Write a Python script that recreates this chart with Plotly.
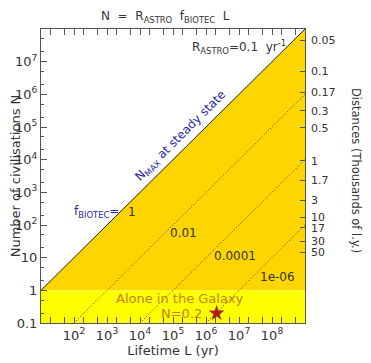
import plotly.graph_objects as go
import math

# ---- data ----
R_ASTRO = 0.1                      # yr^-1
f_biotec = [1, 0.01, 1e-4, 1e-6]
f_labels = ["1", "0.01", "0.0001", "1e-06"]
L_range = [1e1, 1e9]               # lifetime range (yr)
N_range = [0.1, 1e8]
alone_N = [0.1, 1.0]               # "alone" band
star_L = [2.1e6]
star_N = [0.2]
x_tickvals = [1e2, 1e3, 1e4, 1e5, 1e6, 1e7, 1e8]
x_ticktext = ["10<sup>2</sup>", "10<sup>3</sup>", "10<sup>4</sup>", "10<sup>5</sup>",
              "10<sup>6</sup>", "10<sup>7</sup>", "10<sup>8</sup>"]
y_tickvals = [0.1, 1, 10, 1e2, 1e3, 1e4, 1e5, 1e6, 1e7]
y_ticktext = ["0.1", "1", "10", "10<sup>2</sup>", "10<sup>3</sup>", "10<sup>4</sup>",
              "10<sup>5</sup>", "10<sup>6</sup>", "10<sup>7</sup>"]
dist_labels = ["0.05", "0.1", "0.17", "0.3", "0.5", "1", "1.7", "3", "10", "17", "30", "50"]
dist_N = [10**7.66, 10**6.70, 10**6.07, 10**5.50, 10**4.98, 10**3.97, 10**3.36,
          10**2.76, 10**2.24, 10**1.91, 10**1.51, 10**1.17]

FONT = "DejaVu Sans"
GOLD = "#FFD500"
YEL = "#FFFF00"
BLUE = "#2828A8"
BROWN = "#C8801E"
TXT = "#333333"
AX = "#555555"

fig = go.Figure()

# gold region under N_MAX line, above N=1
L_at1 = 1.0 / (R_ASTRO * f_biotec[0])
fig.add_trace(go.Scatter(
    x=[L_at1, L_range[1], L_range[1], L_at1],
    y=[R_ASTRO * f_biotec[0] * L_at1, R_ASTRO * f_biotec[0] * L_range[1], alone_N[1], alone_N[1]],
    fill="toself", fillcolor=GOLD, mode="none", hoverinfo="skip"))
# yellow band
fig.add_trace(go.Scatter(
    x=[L_range[0], L_range[1], L_range[1], L_range[0]],
    y=[alone_N[0], alone_N[0], alone_N[1], alone_N[1]],
    fill="toself", fillcolor=YEL, mode="none", hoverinfo="skip"))

# lines
for i, f in enumerate(f_biotec):
    L0 = max(L_range[0], N_range[0] / (R_ASTRO * f))
    xs = [L0, L_range[1]]
    ys = [R_ASTRO * f * x for x in xs]
    if i == 0:
        line = dict(color="#222222", width=1)
    else:
        line = dict(color="#333333", width=1, dash="1px,2px")
    fig.add_trace(go.Scatter(x=xs, y=ys, mode="lines", line=line, hoverinfo="skip"))

# star
fig.add_trace(go.Scatter(x=star_L, y=star_N, mode="markers",
                         marker=dict(symbol="star", size=12, color="#B02020",
                                     line=dict(width=0)),
                         hoverinfo="skip"))

# invisible trace for y2
fig.add_trace(go.Scatter(x=[L_range[0]], y=[N_range[0]], yaxis="y2", mode="markers",
                         marker=dict(opacity=0), hoverinfo="skip"))

ann = []
def A(text, lx, ly, color=TXT, size=12, angle=0, xanchor="center"):
    ann.append(dict(text=text, x=lx, y=ly, xref="x", yref="y", showarrow=False,
                    font=dict(family=FONT, size=size, color=color), textangle=angle,
                    xanchor=xanchor, yanchor="middle"))

A("f<sub>BIOTEC</sub>=", 3.42, 2.40, color=BLUE, xanchor="right")
A(f_labels[0], 3.76, 2.40)
A(f_labels[1], 5.33, 1.75)
A(f_labels[2], 6.88, 1.05)
A(f_labels[3], 8.18, 0.41)
A("R<sub>ASTRO</sub>=0.1  yr<sup>-1</sup>", 7.0, 7.45)
A("N<sub>MAX</sub> at steady state", 5.25, 4.72, color=BLUE, angle=-45)
A("Alone in the Galaxy", 5.21, -0.24, color=BROWN, size=13)
A("N=0.2", 5.27, -0.72, color=BROWN, size=13)

# right axis title
ann.append(dict(text="Distances (Thousands of l.y.)", xref="paper", yref="paper",
                x=(356 - 41) / 264, y=(323 - 170) / 294, yanchor="middle", xanchor="center",
                showarrow=False, textangle=90,
                font=dict(family=FONT, size=11.5, color=TXT)))
# title
ann.append(dict(text="N  =  R<sub>ASTRO</sub>  f<sub>BIOTEC</sub>  L", xref="paper", yref="paper",
                x=(165 - 41) / 264, y=(323 - 7) / 294, showarrow=False,
                yanchor="top", xanchor="center",
                font=dict(family=FONT, size=12, color=TXT)))

axis_common = dict(showgrid=False, zeroline=False, showline=True, linecolor=AX,
                   linewidth=1, ticks="inside", ticklen=6, tickcolor=AX, automargin=False,
                   tickfont=dict(family=FONT, size=13, color=TXT))

# page body has an 8px default margin: shrink figure so plot lands where reference has it
fig.update_layout(
    width=363, height=355,
    margin=dict(l=33, r=66, t=21, b=40),
    paper_bgcolor="white", plot_bgcolor="white",
    showlegend=False,
    annotations=ann,
    xaxis=dict(type="log", range=[math.log10(L_range[0]), math.log10(L_range[1])],
               tickvals=x_tickvals, ticktext=x_ticktext, mirror="allticks",
               minor=dict(ticks="inside", ticklen=3, tickcolor=AX, showgrid=False),
               title=dict(text="Lifetime L (yr)", font=dict(family=FONT, size=13, color=TXT),
                          standoff=3),
               **axis_common),
    yaxis=dict(type="log", range=[math.log10(N_range[0]), math.log10(N_range[1])],
               tickvals=y_tickvals, ticktext=y_ticktext, mirror=True,
               minor=dict(ticks="inside", ticklen=3, tickcolor=AX, showgrid=False),
               title=dict(text="Number of civilisations N", font=dict(family=FONT, size=13, color=TXT),
                          standoff=1),
               **axis_common),
    yaxis2=dict(type="log", range=[math.log10(N_range[0]), math.log10(N_range[1])],
                overlaying="y", side="right", tickvals=dist_N, ticktext=dist_labels,
                showgrid=False, zeroline=False, showline=False, ticks="inside", ticklen=5,
                automargin=False, ticklabelstandoff=5,
                tickcolor=AX, tickfont=dict(family=FONT, size=11, color=TXT)),
)

fig.write_html("out.html")
